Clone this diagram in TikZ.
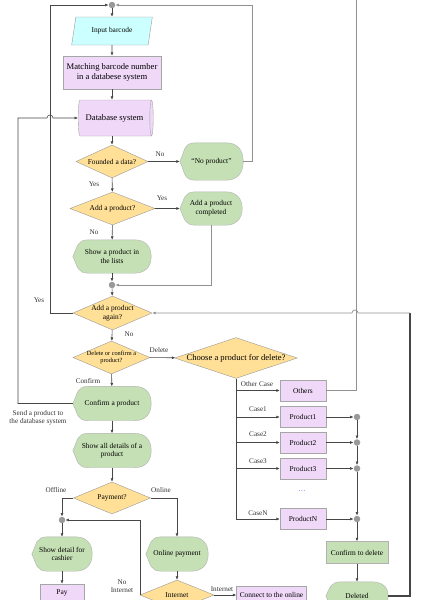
\documentclass[tikz,border=0pt]{standalone}
\usepackage{fontspec}
\setmainfont{Liberation Serif}
\usetikzlibrary{shapes.geometric,arrows.meta,backgrounds}

\definecolor{cyanbox}{RGB}{204,255,255}
\definecolor{pinkbox}{RGB}{240,216,248}
\definecolor{yellowbox}{RGB}{255,224,150}
\definecolor{greenbox}{RGB}{197,224,180}
\definecolor{lineclr}{RGB}{70,70,70}
\definecolor{lightline}{RGB}{145,145,145}

% display shape drawn round a plain node
\newcommand\dispath[1]{(#1.west) to[out=64,in=180,looseness=1.3] ([xshift=16pt]#1.north west) -- ([xshift=-17pt]#1.north east) to[out=0,in=90,looseness=1.15] (#1.east) to[out=-90,in=0,looseness=1.15] ([xshift=-17pt]#1.south east) -- ([xshift=16pt]#1.south west) to[out=180,in=-64,looseness=1.3] (#1.west) -- cycle}

\tikzset{
  txt/.style={font=\fontsize{7.4}{8.6}\selectfont, align=center, inner sep=1pt},
  big/.style={font=\fontsize{8.6}{10}\selectfont},
  small/.style={font=\fontsize{6.3}{7.2}\selectfont},
  inbox/.style={txt, shape=trapezium, trapezium left angle=74, trapezium right angle=106, trapezium stretches=true, fill=cyanbox, draw=black!40},
  procbox/.style={txt, rectangle, fill=pinkbox, draw=black!35},
  dbbox/.style={txt, shape=cylinder, shape aspect=.35, fill=pinkbox, draw=black!35},
  decision/.style={txt, diamond, fill=yellowbox, draw=black!40, inner sep=0pt},
  dispbox/.style={txt, rectangle},
  dispfill/.style={fill=greenbox, draw=black!30},
  okbox/.style={txt, rectangle, fill=greenbox, draw=black!30},
  junc/.style={circle, fill=black!40, inner sep=0pt, minimum size=6.5pt},
  lbl/.style={font=\fontsize{7.2}{8.2}\selectfont, align=center, text=black!80, inner sep=0pt},
  ln/.style={draw=lineclr, line width=.55pt},
  lnl/.style={draw=lightline, line width=.7pt},
}

\begin{document}
\begin{tikzpicture}[x=1pt,y=-1pt, >={Latex[length=3.5pt,width=3pt]}]
\useasboundingbox (0,0) rectangle (426,600);

%main column
\node[junc] (top) at (112,5) {};
\node[inbox, minimum width=81pt, minimum height=28pt] (input) at (112,31) {Input barcode};
\node[procbox, big, minimum width=98pt, minimum height=33pt] (match) at (112,72.5) {Matching barcode number\\in a databese system};
\node[dbbox, big, minimum width=36pt, minimum height=75pt] (db) at (114.5,118) {Database system};
\node[decision, aspect=2.2, minimum width=72pt, minimum height=33pt] (found) at (112,161.5) {Founded a data?};
\node[dispbox, minimum width=63pt, minimum height=37pt] (noprod) at (211.5,161.5) {“No product”};
\node[decision, aspect=2.6, minimum width=85pt, minimum height=33pt] (addq) at (112.5,208.5) {Add a product?};
\node[dispbox, minimum width=62pt, minimum height=33pt] (addok) at (211,208.5) {Add a product\\completed};
\node[dispbox, minimum width=78pt, minimum height=33pt] (showlist) at (112,256.5) {Show a product in\\the lists};
\node[junc] (jlist) at (112,285) {};
\node[decision, aspect=2.3, minimum width=79pt, minimum height=34pt] (again) at (112.5,313) {Add a product\\again?};
\node[decision, small, aspect=2.3, inner sep=-1.5pt, minimum width=77pt, minimum height=33pt] (delconf) at (111.5,357.5) {Delete or confirm a\\product?};
\node[decision, big, aspect=3, minimum width=118pt, minimum height=40pt] (choose) at (236,358) {Choose a product for delete?};
\node[dispbox, minimum width=78pt, minimum height=34pt] (confirm) at (112,403.5) {Confirm a product};
\node[dispbox, minimum width=78pt, minimum height=34pt] (details) at (112,450.5) {Show all details of a\\product};
\node[decision, aspect=2.4, minimum width=77pt, minimum height=32pt] (pay) at (112,498) {Payment?};
\node[junc] (jpay) at (62,520) {};
\node[dispbox, minimum width=60pt, minimum height=34pt] (cashier) at (62,554) {Show detail for\\cashier};
\node[procbox, minimum width=44pt, minimum height=18pt] (paybox) at (62,593) {Pay};
\node[dispbox, minimum width=62pt, minimum height=34pt] (online) at (177,554) {Online payment};
\node[decision, aspect=2.3, minimum width=74pt, minimum height=30pt] (inet) at (177,595) {Internet};
\node[procbox, minimum width=70pt, minimum height=18pt] (connect) at (271.5,595) {Connect to the online};

%delete branch
\node[procbox, minimum width=46pt, minimum height=21pt] (others) at (303,390.5) {Others};
\node[procbox, minimum width=46pt, minimum height=21pt] (prod1) at (303,417) {Product1};
\node[procbox, minimum width=46pt, minimum height=21pt] (prod2) at (303,442.5) {Product2};
\node[procbox, minimum width=46pt, minimum height=21pt] (prod3) at (303,468.5) {Product3};
\node[procbox, minimum width=46pt, minimum height=21pt] (prodN) at (303,519) {ProductN};
\node[lbl, text=blue!75] (dots) at (302,491) {\dots};
\foreach \i in {1,2,3,N}
  \node[junc] (c\i) at (357,0 |- prod\i) {};
\node[okbox, minimum width=62pt, minimum height=22pt] (confdel) at (357,552.5) {Confirm to delete};
\node[dispbox, minimum width=62pt, minimum height=28pt] (deleted) at (357,596) {Deleted};

\coordinate (sendc) at (18,118);
\coordinate (othersup) at (356,0);
\coordinate (loopc) at (410,313);

%labels
\node[lbl] (lyes1) at (94,184) {Yes};
\node[lbl] (lno1) at (160,154) {No};
\node[lbl] (lyes2) at (162,198) {Yes};
\node[lbl] (lno2) at (94,232) {No};
\node[lbl] (lyes3) at (39,300) {Yes};
\node[lbl] (lno3) at (129,334) {No};
\node[lbl] (ldel) at (159,350) {Delete};
\node[lbl] (lconf) at (88,381) {Confirm};
\node[lbl] (lsend) at (38,418) {Send a product to\\the database system};
\node[lbl] (loff) at (56,490) {Offline};
\node[lbl] (lon) at (161,490) {Online};
\node[lbl] (lnoinet) at (122,586) {No\\Internet};
\node[lbl] (linet) at (222,589) {Internet};
\node[lbl] (lother) at (257,384) {Other Case};
\node[lbl] (lc1) at (258,409) {Case1};
\node[lbl] (lc2) at (258,434) {Case2};
\node[lbl] (lc3) at (258,461) {Case3};
\node[lbl] (lcN) at (258,513) {CaseN};

\begin{scope}[on background layer]
\foreach \n in {noprod,addok,showlist,confirm,details,cashier,online,deleted}
  \filldraw[dispfill] \dispath{\n};
\end{scope}

%connectors
\draw[ln,->] (top) -- (input);
\draw[ln,->] (input) -- (match);
\draw[ln,->] (match.south) -- (match.south |- db.north);
\draw[ln,->] (found.north |- db.south) -- (found.north);
\draw[ln,->] (found) -- (noprod);
\draw[lnl,->] (noprod.east) -- ++(9,0) |- (top);
\draw[ln,->] (found) -- (addq);
\draw[ln,->] (addq) -- (addok);
\draw[ln,->] (addq) -- (showlist);
\draw[ln,->] (showlist) -- (jlist);
\draw[lnl,->] (addok.south) |- (jlist);
\draw[ln,->] (jlist) -- (again);
\draw[ln,->] (again.west) -- ++(-23,0) |- (top);
\draw[ln,->] (again) -- (delconf);
\draw[ln,->] (delconf) -- (choose);
\draw[ln,->] (delconf) -- (confirm);
\draw[ln,->] (confirm.west) -| (sendc) -- ++(29,0) arc[start angle=180,end angle=0,radius=3pt] -- (db.west);
\draw[ln,->] (confirm) -- (details);
\draw[ln,->] (details) -- (pay);
\draw[ln,->] (pay.west) -| (jpay);
\draw[ln,->] (jpay) -- (cashier);
\draw[ln,->] (cashier) -- (paybox);
\draw[ln,->] (pay.east) -| (online);
\draw[ln,->] (online) -- (inet);
\draw[ln,->] (inet.west) |- (jpay);
\draw[ln,->] (inet.east) -- (inet.east -| connect.west);

\draw[ln] (choose.south) -- (choose.south |- prodN.west);
\foreach \p in {others,prod1,prod2,prod3,prodN}
  \draw[ln,->] (choose.south |- \p.west) -- (\p.west);
\draw[lnl] (others.east) -| (othersup);
\foreach \i in {1,2,3,N}
  \draw[ln,->] (prod\i) -- (c\i);
\draw[ln,->] (c1) -- (c2);
\draw[ln,->] (c2) -- (c3);
\draw[ln,->] (c3) -- (cN);
\draw[ln,->] (cN) -- (confdel);
\draw[ln,->] (confdel) -- (deleted);
\draw[ln,line width=1.3pt] (deleted.east) -| (loopc);
\draw[lnl,->] (loopc) -- (358,313) arc[start angle=0,end angle=180,radius=3pt] -- (again.east);
\end{tikzpicture}
\end{document}
